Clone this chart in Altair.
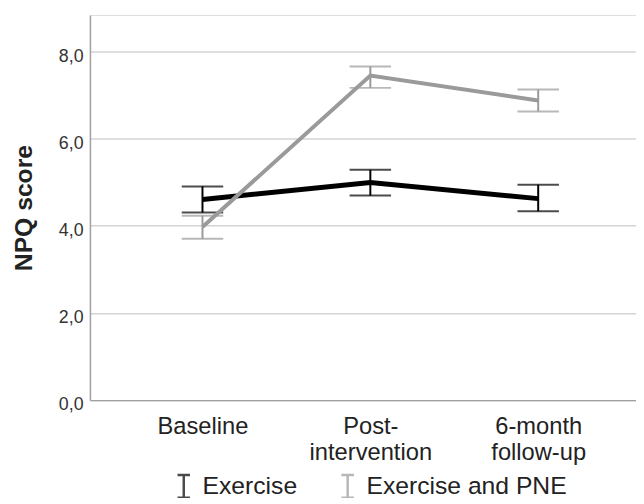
import altair as alt
import pandas as pd

# ---- data ----
timepoints = ["Baseline", "Post-intervention", "6-month follow-up"]
tick_label_lines = {
    "Baseline": ["Baseline"],
    "Post-intervention": ["Post-", "intervention"],
    "6-month follow-up": ["6-month", "follow-up"],
}
groups = ["Exercise", "Exercise and PNE"]

exercise_mean = [4.60, 4.99, 4.62]
exercise_low = [4.30, 4.69, 4.33]
exercise_high = [4.90, 5.28, 4.94]

pne_mean = [3.97, 7.44, 6.87]
pne_low = [3.70, 7.16, 6.62]
pne_high = [4.23, 7.65, 7.12]

rows = []
for g, m, lo, hi in [
    (groups[0], exercise_mean, exercise_low, exercise_high),
    (groups[1], pne_mean, pne_low, pne_high),
]:
    for t, a, b, c in zip(timepoints, m, lo, hi):
        rows.append({"time": t, "group": g, "mean": a, "low": b, "high": c})
df = pd.DataFrame(rows)

label_expr = " : ".join(
    f"datum.value == '{k}' ? {v!r}" for k, v in tick_label_lines.items()
) + " : datum.value"

FONT = "Liberation Sans"

x_enc = alt.X(
    "time:N",
    sort=timepoints,
    scale=alt.Scale(type="point", padding=0.6265, align=0.535),
    axis=alt.Axis(
        title=None,
        labelExpr=label_expr,
        labelAngle=0,
        labelAlign="center",
        labelBaseline="top",
        labelFontSize=24,
        labelLineHeight=26,
        labelPadding=15,
        labelColor="#222222",
        labelFont=FONT,
        ticks=False,
        tickSize=0,
        grid=False,
        domainColor="#a0a0a0",
        domainWidth=1.5,
    ),
)

y_scale = alt.Scale(domain=[0, 8.83], nice=False, zero=True)

color_scale = alt.Scale(domain=groups, range=["#000000", "#9a9a9a"])

legend = alt.Legend(
    title=None,
    orient="none",
    direction="horizontal",
    legendX=82,
    legendY=464,
    symbolType="M-0.55,-1H0.55M0,-1V1M-0.55,1H0.55",
    symbolSize=529,
    symbolStrokeWidth=2.5,
    symbolFillColor="transparent",
    labelFont=FONT,
    labelFontSize=25,
    labelColor="#222222",
    labelOffset=6,
    labelLimit=400,
    columnPadding=38,
    padding=0,
)

color_enc = alt.Color("group:N", scale=color_scale, legend=legend)

base = alt.Chart(df)

rules = base.mark_rule(strokeWidth=2).encode(
    x=x_enc,
    y=alt.Y("low:Q", scale=y_scale),
    y2="high:Q",
    color=color_enc,
)

caps_low = base.mark_tick(size=42, thickness=2, orient="horizontal").encode(
    x=x_enc,
    y=alt.Y("low:Q", scale=y_scale),
    color=color_enc,
)
caps_high = base.mark_tick(size=42, thickness=2, orient="horizontal").encode(
    x=x_enc,
    y=alt.Y("high:Q", scale=y_scale),
    color=color_enc,
)

y_axis = alt.Axis(
    title="NPQ score",
    titleFont=FONT,
    titleFontSize=25,
    titleFontWeight="bold",
    titleColor="#222222",
    titleX=-67,
    titleBaseline="middle",
    values=[0, 2, 4, 6, 8],
    labelExpr="replace(format(datum.value, '.1f'), '.', ',')",
    labelFont=FONT,
    labelFontSize=18,
    labelColor="#333333",
    labelPadding=7,
    labelOffset=5,
    ticks=False,
    tickSize=0,
    grid=True,
    gridColor="#d4d4d4",
    gridWidth=1.5,
    domainColor="#a0a0a0",
    domainWidth=1.5,
)

line_ex = base.transform_filter(alt.datum.group == groups[0]).mark_line(
    strokeWidth=5
).encode(
    x=x_enc,
    y=alt.Y("mean:Q", scale=y_scale, axis=y_axis),
    color=color_enc,
)

line_pne = base.transform_filter(alt.datum.group == groups[1]).mark_line(
    strokeWidth=4
).encode(
    x=x_enc,
    y=alt.Y("mean:Q", scale=y_scale),
    color=color_enc,
)

chart = (
    alt.layer(rules, caps_low, caps_high, line_ex, line_pne)
    .properties(
        width=553,
        height=390,
        autosize=alt.AutoSizeParams(type="none"),
        padding={"left": 83, "top": 4, "right": 0, "bottom": 96},
    )
    .configure_view(stroke=None)
    .configure(background="white")
)

chart.save("out.html", embed_options={"renderer": "svg", "actions": False})
